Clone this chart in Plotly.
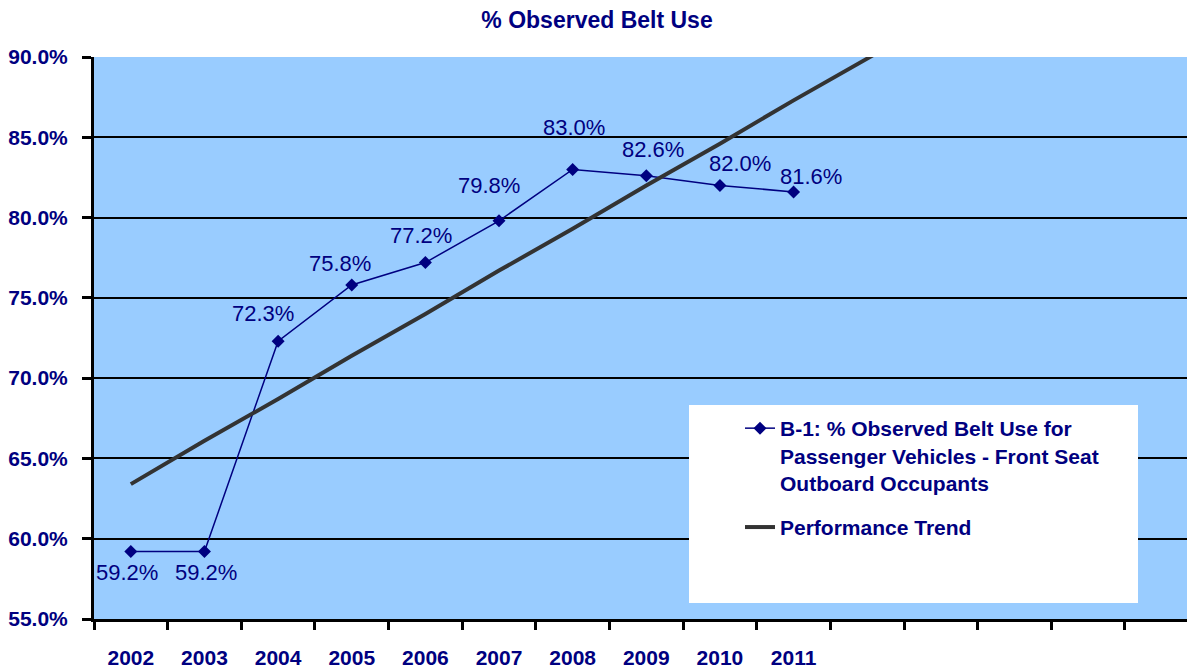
import plotly.graph_objects as go

years = ["2002", "2003", "2004", "2005", "2006", "2007", "2008", "2009", "2010", "2011"]
belt_use = [59.2, 59.2, 72.3, 75.8, 77.2, 79.8, 83.0, 82.6, 82.0, 81.6]
trend = [63.4, 66.1, 68.7, 71.4, 74.0, 76.7, 79.3, 82.0, 84.6, 87.3, 89.9, 92.6]

label_offsets = [(-4, -21), (2, -21), (-15, 28), (-12, 22), (-4, 27),
                 (-10, 35), (1, 42), (7, 26), (20, 22), (17, 15)]

NAVY = "#000080"
FONT = "Liberation Sans"
W, H = 1187, 668
ML, MT, MB = 94, 57, 49

x_idx = list(range(len(years)))
trend_idx = list(range(len(trend)))

fig = go.Figure()
fig.add_trace(go.Scatter(
    x=x_idx, y=belt_use, mode="lines+markers",
    name="B-1: % Observed Belt Use for<br>Passenger Vehicles - Front Seat<br>Outboard Occupants",
    line=dict(color=NAVY, width=1.5),
    marker=dict(symbol="diamond", size=10, color=NAVY),
    legendgroup="a",
))
fig.add_trace(go.Scatter(
    x=trend_idx, y=trend, mode="lines", name="Performance Trend",
    line=dict(color="#333333", width=4),
    legendgroup="b",
))

for i, (v, (dx, dy)) in enumerate(zip(belt_use, label_offsets)):
    fig.add_annotation(x=i, y=v, text=f"{v:.1f}%", showarrow=False,
                       xanchor="center", yanchor="middle", xshift=dx, yshift=dy,
                       font=dict(family=FONT, size=22, color=NAVY))

pw = W - ML
ph = H - MT - MB
fig.add_shape(type="rect", xref="paper", yref="paper",
              x0=(689 - ML) / pw, x1=(1138 - ML) / pw,
              y0=1 - (603 - MT) / ph, y1=1 - (405 - MT) / ph,
              fillcolor="white", line=dict(width=0), layer="above")

fig.update_layout(
    width=W, height=H,
    margin=dict(l=ML, r=0, t=MT, b=MB, autoexpand=False),
    paper_bgcolor="white", plot_bgcolor="#99CCFF",
    title=dict(text="<b>% Observed Belt Use</b>", x=597 / W, xanchor="center",
               y=1 - 20 / H, yanchor="middle",
               font=dict(family=FONT, size=23, color=NAVY)),
    showlegend=True,
    legend=dict(x=(740 - ML) / pw, xanchor="left", y=1 - (408 - MT) / ph, yanchor="top",
                bgcolor="rgba(0,0,0,0)", valign="top", traceorder="grouped",
                tracegroupgap=14,
                font=dict(family=FONT, size=21, color=NAVY, weight="bold")),
    xaxis=dict(range=[-0.5, (pw / 73.64) - 0.5], tickmode="array", tickvals=x_idx, ticktext=years,
               ticks="", showgrid=False, zeroline=False, automargin=False,
               showline=True, linecolor="black", linewidth=3,
               ticklabelstandoff=18,
               tickfont=dict(family=FONT, size=21, color=NAVY, weight="bold"),
               minor=dict(tickmode="linear", tick0=-0.5, dtick=1, ticks="outside",
                          ticklen=8, tickwidth=3, tickcolor="black", showgrid=False)),
    yaxis=dict(range=[55, 90], tickmode="linear", tick0=55, dtick=5,
               tickformat=".1f", ticksuffix="%", automargin=False,
               ticks="outside", ticklen=9, tickwidth=3, tickcolor="black",
               showgrid=True, gridcolor="black", gridwidth=2, zeroline=False,
               showline=True, linecolor="black", linewidth=3,
               ticklabelstandoff=10,
               tickfont=dict(family=FONT, size=21, color=NAVY, weight="bold")),
)

fig.write_html("out.html", config={"displayModeBar": False},
               post_script="document.body.style.margin='0';document.body.style.overflow='hidden';")
